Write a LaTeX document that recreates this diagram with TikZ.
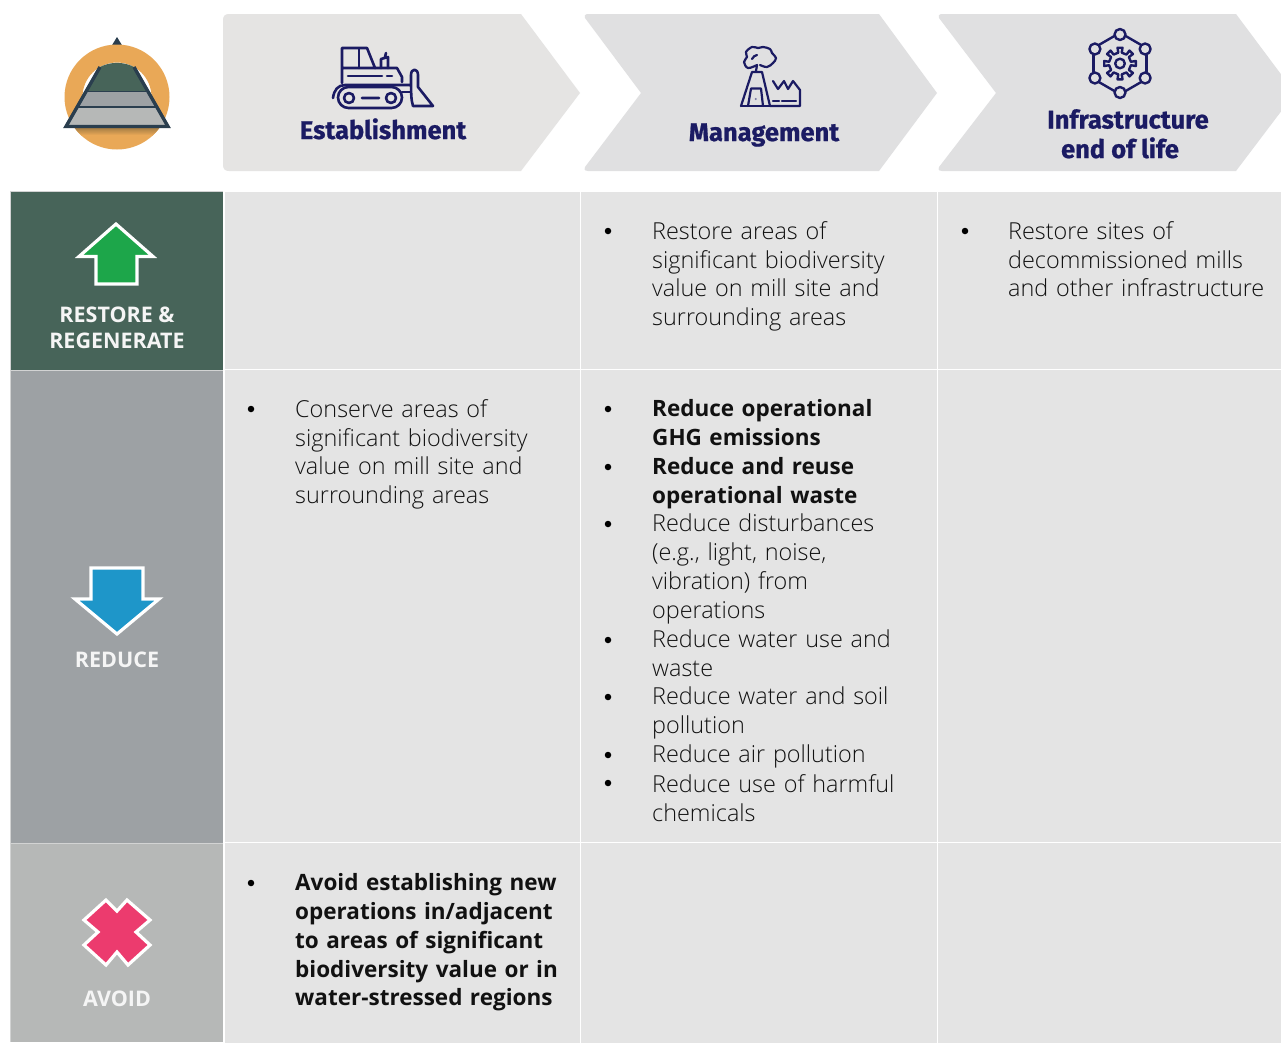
\documentclass[tikz,border=0pt]{standalone}
\usepackage{fontspec}
\setmainfont{Open Sans Light}
\newfontfamily\semifont{Open Sans}
\newfontfamily\labfont{Open Sans}
\newfontfamily\headfont[BoldFeatures={FakeBold=0.8}]{Fira Sans}
\definecolor{cellgrey}{HTML}{E4E4E4}
\definecolor{rulegrey}{HTML}{D2D3D3}
\definecolor{headA}{HTML}{E5E4E3}
\definecolor{headB}{HTML}{E0E0E1}
\definecolor{navy}{HTML}{1B1B63}
\definecolor{forest}{HTML}{476459}
\definecolor{midgrey}{HTML}{9DA1A4}
\definecolor{lightgrey}{HTML}{B6B8B7}
\definecolor{slate}{HTML}{2A3E4E}
\definecolor{ochre}{HTML}{E9A857}
\definecolor{ochredark}{HTML}{A87F45}
\definecolor{bodytext}{HTML}{111111}
\tikzset{
  x=1pt,y=-1pt,
  cell/.style={fill=cellgrey,draw=white,line width=1.5pt},
  side/.style={draw=rulegrey,line width=0.8pt},
  ic/.style={draw=navy,line width=2.6pt,line join=round,line cap=round},
  head/.style={font=\headfont\bfseries\fontsize{25.5}{26}\selectfont,text=navy,anchor=base,inner sep=0pt},
  lab/.style={font=\labfont\bfseries\fontsize{21.5}{26}\selectfont,text=white!96!black,anchor=base,inner sep=0pt},
  item/.style={anchor=north west,align=left,inner sep=0pt,text width=300pt,text=bodytext,font=\fontsize{23.4}{28.9}\selectfont},
  bitem/.style={item,font=\semifont\bfseries\fontsize{22.5}{28.9}\selectfont},
  dot/.style={circle,fill=black,inner sep=0pt,minimum size=6.5pt},
  arrowicon/.style={draw=white,line width=3.2pt,line join=miter},
}
\begin{document}
\begin{tikzpicture}
\useasboundingbox (0,0) rectangle (1281,1042);
\fill[white] (0,0) rectangle (1281,1042);
% left column
\fill[forest] (10,192) rectangle (223,370);
\fill[midgrey] (10,370) rectangle (223,843);
\fill[lightgrey] (10,843) rectangle (223,1042);
\draw[side] (10,191.5) -- (10,1042);
\draw[side] (10,191.5) -- (223,191.5);
\draw[side] (10,370) -- (223,370) (10,843) -- (223,843);
% grid
\foreach \xa/\xb in {224/580.5,580.5/937.5,937.5/1290}{
  \draw[cell] (\xa,191) rectangle (\xb,369.5);
  \draw[cell] (\xa,369.5) rectangle (\xb,842.5);
  \draw[cell] (\xa,842.5) rectangle (\xb,1050);
}
% chevrons
\fill[headA] (229,14) -- (521,14) -- (580,93) -- (521,171) -- (229,171) .. controls (225,171) and (223,169) .. (223,165) -- (223,20) .. controls (223,16) and (225,14) .. (229,14) -- cycle;
\fill[headB] (587,14) -- (879,14) -- (937,93) -- (879,171) -- (588,171) .. controls (584,171) and (584,168) .. (585,167) -- (641,93) -- (585,18) .. controls (584,16) and (585,14) .. (587,14) -- cycle;
\fill[headB] (941,14) -- (1236,14) -- (1295,93) -- (1236,171) -- (942,171) .. controls (938,171) and (938,168) .. (939,167) -- (996,93) -- (939,18) .. controls (938,16) and (939,14) .. (941,14) -- cycle;
% logo
\fill[slate] (117,37) -- (111.5,46) -- (122.5,46) -- cycle;
\fill[ochre,even odd rule] (117,97) circle (52.5) (117,97) circle (34.5);
\begin{scope}
\clip (117,97) circle (52.5);
\shade[top color=ochredark,bottom color=ochre] (70,128) rectangle (164,135);
\end{scope}
\fill[forest] (100,67) .. controls (110,61.5) and (124,61.5) .. (134,67) -- (149,92) -- (85,92) -- cycle;
\fill[midgrey] (85,92) -- (149,92) -- (157,107) -- (77,107) -- cycle;
\fill[lightgrey] (77,107) -- (157,107) -- (168,126) -- (66,126) -- cycle;
\draw[slate,line width=3.4pt,line join=miter] (100,67) -- (66,126.5) -- (168,126.5) -- (134,67);
\draw[slate,line width=1.5pt] (87,91.5) -- (147,91.5) (78,107) -- (156,107);
% bulldozer
\begin{scope}[shift={(300,20)}]
\draw[ic] (42,63) -- (42,28) -- (67,28) -- (75,48) -- (42,48);
\draw[ic] (59,29) -- (59,48);
\draw[ic] (81,48) -- (81,39) -- (88,37) -- (88,48) (85,37) -- (86,33);
\draw[ic] (75,48) -- (97,48) -- (102,57) -- (102,62);
\draw[ic] (48,56) -- (82,56) (87,56) -- (92,56);
\draw[ic] (33,78) .. controls (34,70) and (38,65) .. (45,65) -- (110,65);
\draw[ic,rounded corners=10.5pt] (38,67) rectangle (102,88);
\draw[ic] (49,78) circle (5) (91,78) circle (5) (62,78) -- (79,78);
\draw[ic] (102,72) -- (111,72);
\draw[ic] (111,55) .. controls (111,48) and (118,48) .. (118,55) -- (118,67) -- (133,86) -- (113,86) .. controls (111,80) and (111,72) .. (111,55);
\end{scope}
\node[head] (est) at (383,139) {Establishment};
% factory
\begin{scope}[shift={(680,20)}]
\draw[ic,line width=2.2pt] (61,86) -- (72,52) -- (82,52) -- (90,86) -- (120,86) -- (120,70) -- (113,61) -- (108,69) -- (104,61) -- (98,69) -- (93,61);
\draw[ic,line width=2.2pt] (61,86) -- (90,86);
\draw[ic,line width=2.2pt] (68,86) -- (71,68.5) -- (81,68.5) -- (83,86);
\fill[navy!60] (75.7,79) circle (1.2);
\draw[ic,line width=2.2pt] (93,80.7) -- (99,80.7) (102,80.7) -- (116,80.7);
\draw[ic,line width=2.2pt] (76,51) -- (77,45);
\draw[ic,line width=2.2pt] plot[smooth,tension=0.6] coordinates {(77,45) (68,48) (64,42) (67,37) (66,32) (72,27) (78,28) (83,27) (90,29) (92,33) (96,38) (93,43) (87,47) (80,45)};
\draw[ic,line width=2.2pt] (72,39) .. controls (73,37) and (75,35) .. (77,35);
\end{scope}
\node[head] (mgmt) at (764,141) {Management};
% gear network
\begin{scope}[shift={(1120,63.5)}]
\foreach \a in {30,90,150,210,270,330}{
  \draw[ic,line width=2.4pt] (\a:29) circle (5.5);
  \draw[ic,line width=2.4pt] ({\a+12}:28) -- ({\a+48}:28);
}
\draw[ic,line width=2.4pt] (0,0) circle (4.8);
\draw[ic,line width=2.4pt] (-9:11) \foreach \a in {0,45,...,315}{ -- ({\a-9}:11) -- ({\a-9}:16) -- ({\a+9}:16) -- ({\a+9}:11) } -- cycle;
\end{scope}
\node[head] (infra1) at (1128,128.5) {Infrastructure};
\node[head] (infra2) at (1120,158) {end of life};
% row icons
\draw[arrowicon,fill={rgb,255:red,29;green,166;blue,74}] (116,224) -- (153,256.5) -- (137,256.5) -- (137,284) -- (96,284) -- (96,256.5) -- (79,256.5) -- cycle;
\node[lab] (rr1) at (117,322.5) {RESTORE \&};
\node[lab] (rr2) at (117,348.5) {REGENERATE};
\draw[arrowicon,fill={rgb,255:red,30;green,150;blue,201}] (91,568) -- (143,568) -- (143,599) -- (159,599) -- (117,634) -- (75,599) -- (91,599) -- cycle;
\node[lab] (red) at (117,667) {REDUCE};
\draw[arrowicon,fill={rgb,255:red,236;green,59;blue,110}] (106,900) -- (117,911) -- (127,900) -- (150,920) -- (136,932) -- (150,945) -- (128,965) -- (117,952) -- (106,965) -- (84,945) -- (98,932) -- (84,920) -- cycle;
\node[lab] (av) at (117,1006.5) {AVOID};
% texts
\node[dot] at (251,409) {};
\node[item] at (295,399) {Conserve areas of\\significant biodiversity\\value on mill site and\\surrounding areas};
\node[dot] at (251,883) {};
\node[bitem] at (295,873) {Avoid establishing new\\operations in/adjacent\\to areas of significant\\biodiversity value or in\\water-stressed regions};
\node[dot] at (608,231) {};
\node[item] at (652,221) {Restore areas of\\significant biodiversity\\value on mill site and\\surrounding areas};
\node[dot] at (965,231) {};
\node[item] at (1008,221) {Restore sites of\\decommissioned mills\\and other infrastructure};
\foreach \y in {409,467,524,640,697,755,783}{\node[dot] at (608,\y) {};}
\node[bitem] at (652,399) {Reduce operational\\GHG emissions};
\node[bitem] at (652,457) {Reduce and reuse\\operational waste};
\node[item] at (652,514) {Reduce disturbances\\(e.g., light, noise,\\vibration) from\\operations};
\node[item] at (652,630) {Reduce water use and\\waste};
\node[item] at (652,687) {Reduce water and soil\\pollution};
\node[item] at (652,745) {Reduce air pollution};
\node[item] at (652,774) {Reduce use of harmful\\chemicals};
\end{tikzpicture}
\end{document}
